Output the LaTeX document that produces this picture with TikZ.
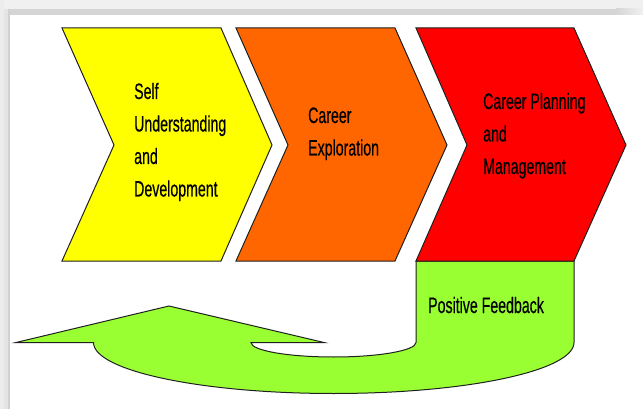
\documentclass[tikz,border=0pt]{standalone}
\usepackage{fontspec}
\setmainfont{Liberation Sans}
\newfontfamily\lblfont[FakeBold=0.5]{Liberation Sans}
\usepackage{graphicx}
\definecolor{cyel}{HTML}{FFFF00}
\definecolor{cora}{HTML}{FF6600}
\definecolor{cred}{HTML}{FF0000}
\definecolor{cgrn}{HTML}{99FF33}
\definecolor{cline}{HTML}{202020}
\newcommand\sqz[1]{\scalebox{0.635}[1]{#1}}
\newcommand\lbl[1]{{\lblfont\fontsize{22.3}{32.5}\selectfont\vtop{#1}}}
\tikzset{
  chev/.style={draw=cline, line width=1pt, line join=miter},
  lab/.style={anchor=base west, inner sep=0pt, text=black},
}
\begin{document}
\begin{tikzpicture}[x=1pt,y=-1pt]
\useasboundingbox (0,0) rectangle (643,409);
\fill[white] (0,0) rectangle (643,409);
% frame shadow
\fill[gray!12] (0,0) rectangle (643,9);
\fill[gray!33] (10,9) rectangle (616,15);
\shade[left color=gray!33, right color=gray!12] (616,9) rectangle (643,15);
\fill[gray!15] (0,0) rectangle (4,409);
\fill[gray!21] (4,9) rectangle (8,409);
\fill[gray!36] (8,9) rectangle (10,409);
% feedback arrow
\draw[chev, fill=cgrn] (416,261) -- (416,342.5)
  arc[start angle=0, end angle=180, x radius=82.5, y radius=14.5]
  -- (324,342.5) -- (169,306) -- (16,342.5) -- (93.5,342.5)
  arc[start angle=180, end angle=0, x radius=240.25, y radius=51]
  -- (574,261) -- cycle;
% chevrons
\draw[chev, fill=cyel] (62,28) -- (221,28) -- (272,145) -- (221,261) -- (62,261) -- (114,145) -- cycle;
\draw[chev, fill=cora] (236,28) -- (395,28) -- (447,145) -- (395,261) -- (236,261) -- (288,145) -- cycle;
\draw[chev, fill=cred] (416,28) -- (574,28) -- (626,145) -- (574,261) -- (416,261) -- (467,145) -- cycle;
% labels
\node[lab] (self) at (134,99) {\lbl{\hbox{\sqz{Self}}\hbox{\sqz{Understanding}}\hbox{\sqz{and}}\hbox{\sqz{Development}}}};
\node[lab] (expl) at (308,123) {\lbl{\hbox{\sqz{Career}}\hbox{\sqz{Exploration}}}};
\node[lab] (plan) at (483,109) {\lbl{\hbox{\sqz{Career Planning}}\hbox{\sqz{and}}\hbox{\sqz{Management}}}};
\node[lab] (feed) at (428,313) {\lbl{\hbox{\sqz{Positive Feedback}}}};
\end{tikzpicture}
\end{document}
